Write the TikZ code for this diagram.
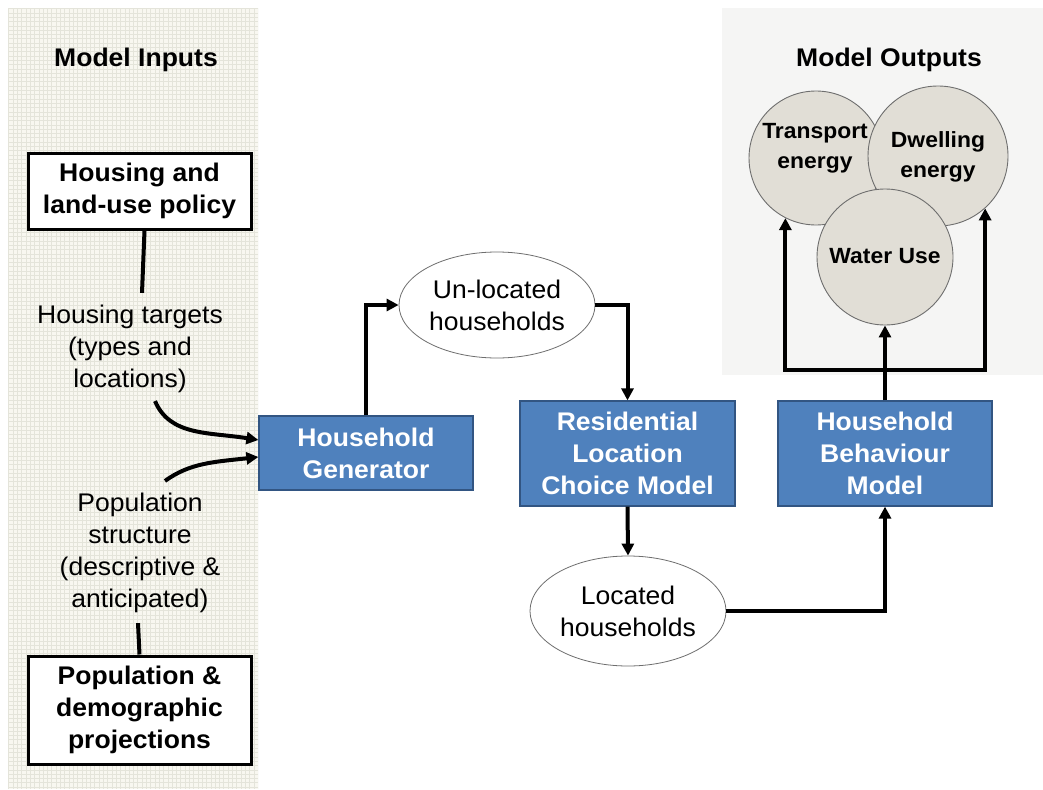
\documentclass[tikz,border=0pt]{standalone}
\usepackage{fontspec}
\setmainfont[FakeStretch=1.04]{Liberation Sans}
\usetikzlibrary{arrows.meta,shapes.geometric}
\definecolor{hblue}{RGB}{79,129,189}
\definecolor{hblueline}{RGB}{50,85,130}
\definecolor{circfill}{RGB}{225,222,214}
\definecolor{circline}{RGB}{110,110,110}
\definecolor{leftbg}{RGB}{248,247,240}
\definecolor{leftgrid}{RGB}{228,228,218}
\definecolor{rightbg}{RGB}{245,245,244}
\tikzset{
  big/.style={font=\fontsize{25.5}{32}\selectfont},
  bigb/.style={font=\fontsize{25.5}{32}\selectfont\bfseries},
  txt/.style={big,align=center,inner sep=0pt},
  title/.style={bigb,inner sep=0pt},
  inbox/.style={draw=black,line width=3pt,fill=white,bigb,align=center,inner sep=0pt},
  bluebox/.style={draw=hblueline,line width=1.2pt,fill=hblue,text=white,bigb,align=center,inner sep=0pt},
  oval/.style={ellipse,draw=circline,line width=0.8pt,fill=white,big,align=center,inner sep=0pt},
  outc/.style={circle,draw=circline,line width=0.9pt,fill=circfill,inner sep=0pt},
  ctext/.style={font=\fontsize{22}{30}\selectfont\bfseries,align=center,inner sep=0pt},
  conn/.style={line width=4pt},
  arr/.style={line width=4pt,-{Triangle[length=12pt,width=12pt]}},
}
\begin{document}
\begin{tikzpicture}[x=1pt,y=-1pt]
\useasboundingbox (0,0) rectangle (1043,789);
\fill[white] (0,0) rectangle (1043,789);
% left panel
\fill[leftbg] (8,8) rectangle (258,789);
\begin{scope}
\clip (8,8) rectangle (258,789);
\draw[leftgrid,line width=0.4pt,step=4.3pt] (8,8) grid (258,789);
\end{scope}
% right panel
\fill[rightbg] (722,8) rectangle (1043,375);

\node[title] (tin) at (136,60) {Model Inputs};
\node[title] (tout) at (889,60) {Model Outputs};

\node[inbox,minimum width=223pt,minimum height=76pt] (policy) at (139.5,191) {Housing and\\land-use policy};
\node[txt] (targets) at (130,349) {Housing targets\\(types and\\locations)};
\node[txt] (popstr) at (140,553) {Population\\structure\\(descriptive \&\\anticipated)};
\node[inbox,minimum width=223pt,minimum height=108pt] (popbox) at (139.5,710) {Population \&\\demographic\\projections};

\node[bluebox,minimum width=214pt,minimum height=74pt] (HG) at (366,453) {Household\\Generator};
\node[oval,minimum width=196pt,minimum height=106pt] (unloc) at (497,305) {Un-located\\households};
\node[bluebox,minimum width=215pt,minimum height=105pt] (RLCM) at (627.5,453.5) {Residential\\Location\\Choice Model};
\node[oval,minimum width=196pt,minimum height=110pt] (loc) at (628,611) {Located\\households};
\node[bluebox,minimum width=214pt,minimum height=105pt] (HBM) at (885,453.5) {Household\\Behaviour\\Model};

\node[outc,minimum size=134pt] (T) at (816,158) {};
\node[outc,minimum size=140pt] (D) at (938,156) {};
\node[outc,minimum size=136pt] (W) at (885,257) {};
\node[ctext] (Tt) at (815,148) {Transport\\energy};
\node[ctext] (Dt) at (938,157) {Dwelling\\energy};
\node[ctext] (Wt) at (885,256) {Water Use};

% connectors
\draw[conn] ([xshift=5pt]policy.south) -- ([xshift=12pt,yshift=12pt]targets.north);
\draw[arr] ([xshift=25pt,yshift=-8pt]targets.south) .. controls +(15,35) and +(-50,-8) .. ([yshift=13pt]HG.west);
\draw[arr] ([xshift=25pt,yshift=12pt]popstr.north) .. controls +(25,-18) and +(-45,5) .. ([yshift=-4pt]HG.west);
\draw[conn] ([xshift=-2pt,yshift=-10pt]popstr.south) -- ([xshift=0pt]popbox.north);

\draw[arr] (HG.north) |- (unloc.west);
\draw[arr] (unloc.east) -| (RLCM.north);
\draw[arr] (RLCM.south) -- (loc.north);
\draw[arr] (loc.east) -| (HBM.south);
\coordinate (jn) at (885,370);
\draw[conn] (HBM.north) -- (jn);
\draw[arr] (jn) -- (W.south);
\draw[arr] ([xshift=2pt]jn) -| (T.-117);
\draw[arr] ([xshift=-2pt]jn) -| (D.-48);
\end{tikzpicture}
\end{document}
